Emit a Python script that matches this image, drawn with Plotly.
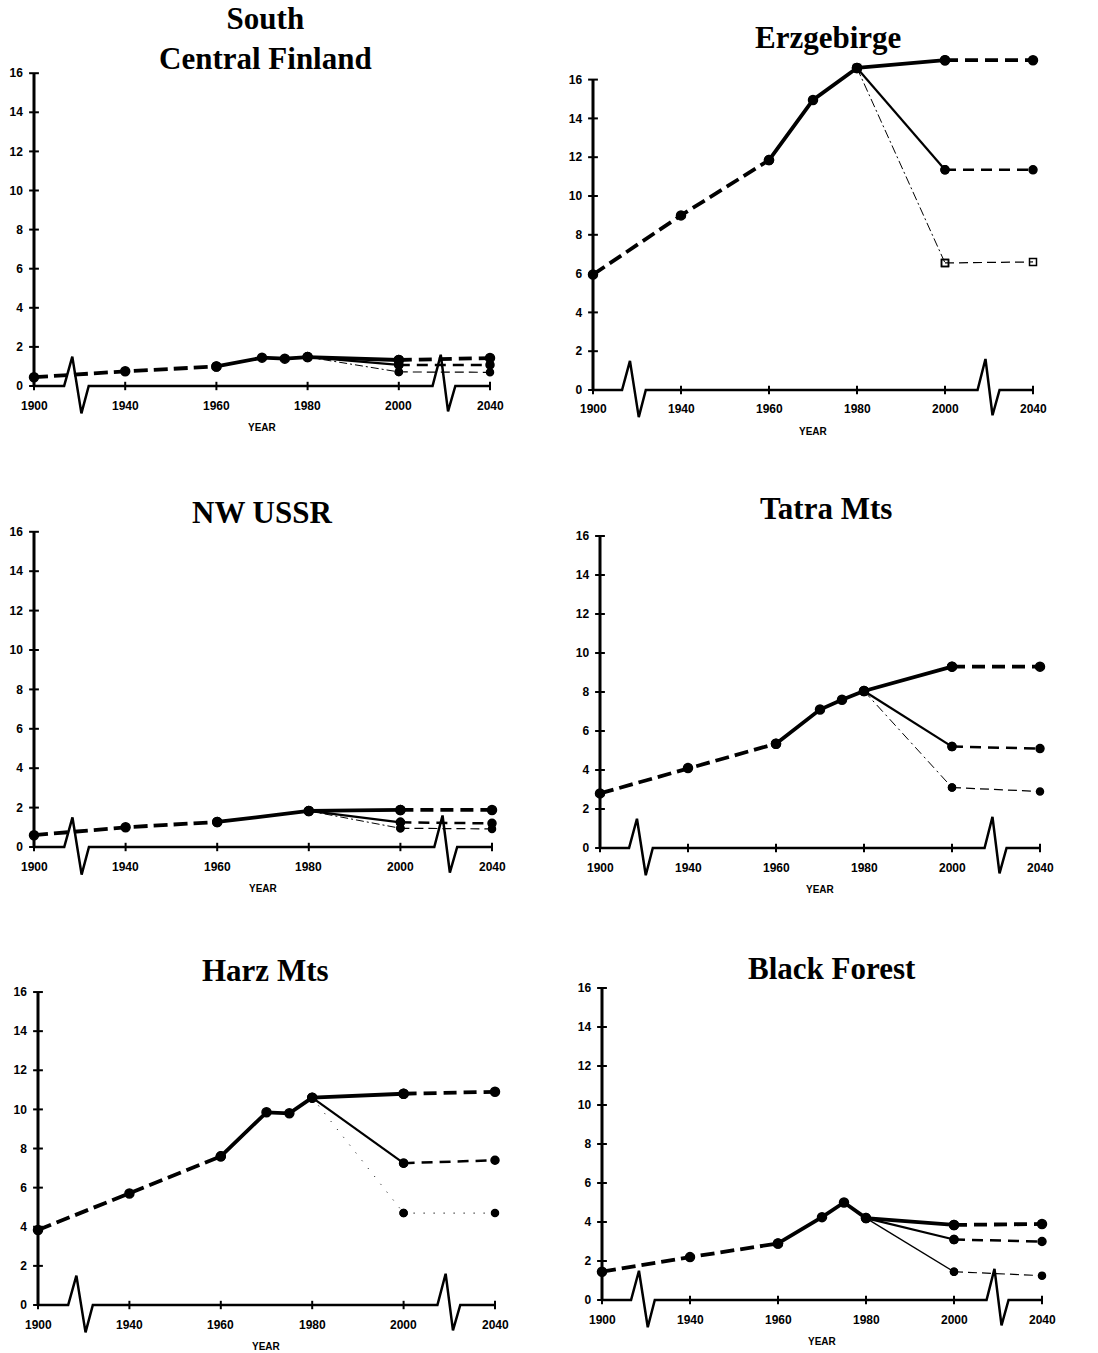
import numpy as np
import plotly.graph_objects as go

W, H = 1098, 1353

# ---------------- data ----------------
tick_years = [1900, 1940, 1960, 1980, 2000, 2040]
tick_labels = ["1900", "1940", "1960", "1980", "2000", "2040"]
y_ticks = [0, 2, 4, 6, 8, 10, 12, 14, 16]
scen_years = [1980, 2000, 2040]

fin_hist_years = [1900, 1940, 1960, 1970, 1975, 1980]
fin_hist_vals = [0.45, 0.75, 1.0, 1.45, 1.4, 1.48]
fin_high = [1.48, 1.33, 1.43]
fin_mid = [1.48, 1.08, 1.08]
fin_low = [1.48, 0.72, 0.7]

erz_hist_years = [1900, 1940, 1960, 1970, 1980]
erz_hist_vals = [5.95, 9.0, 11.85, 14.95, 16.6]
erz_high = [16.6, 17.0, 17.0]
erz_mid = [16.6, 11.35, 11.35]
erz_low = [16.6, 6.55, 6.6]

nw_hist_years = [1900, 1940, 1960, 1980]
nw_hist_vals = [0.6, 1.0, 1.27, 1.83]
nw_high = [1.83, 1.88, 1.88]
nw_mid = [1.83, 1.25, 1.2]
nw_low = [1.83, 0.95, 0.92]

tat_hist_years = [1900, 1940, 1960, 1970, 1975, 1980]
tat_hist_vals = [2.8, 4.1, 5.35, 7.1, 7.6, 8.05]
tat_high = [8.05, 9.3, 9.3]
tat_mid = [8.05, 5.2, 5.1]
tat_low = [8.05, 3.1, 2.9]

harz_hist_years = [1900, 1940, 1960, 1970, 1975, 1980]
harz_hist_vals = [3.83, 5.7, 7.6, 9.85, 9.8, 10.6]
harz_high = [10.6, 10.8, 10.9]
harz_mid = [10.6, 7.25, 7.4]
harz_low = [10.6, 4.7, 4.7]

bf_hist_years = [1900, 1940, 1960, 1970, 1975, 1980]
bf_hist_vals = [1.45, 2.2, 2.9, 4.25, 5.0, 4.2]
bf_high = [4.2, 3.85, 3.9]
bf_mid = [4.2, 3.1, 3.0]
bf_low = [4.2, 1.45, 1.25]

titles = ["South<br>Central Finland", "Erzgebirge", "NW USSR", "Tatra Mts", "Harz Mts", "Black Forest"]

# ---------------- layout parameters (pixels) ----------------
panels = [
    dict(x0=34, sx=91.2, y0=386, sy=19.55, tx=265, ty=39, hist=(fin_hist_years, fin_hist_vals),
         high=fin_high, mid=fin_mid, low=fin_low, lowdash="8px,3px,2px,3px", lowsym="circle"),
    dict(x0=593, sx=88.0, y0=390, sy=19.4, tx=828, ty=38, hist=(erz_hist_years, erz_hist_vals),
         high=erz_high, mid=erz_mid, low=erz_low, lowdash="9px,3px,2px,3px", lowsym="square-open"),
    dict(x0=34, sx=91.6, y0=847, sy=19.7, tx=262, ty=512, hist=(nw_hist_years, nw_hist_vals),
         high=nw_high, mid=nw_mid, low=nw_low, lowdash="8px,3px,2px,3px", lowsym="circle"),
    dict(x0=600, sx=88.0, y0=848, sy=19.5, tx=826, ty=508, hist=(tat_hist_years, tat_hist_vals),
         high=tat_high, mid=tat_mid, low=tat_low, lowdash="9px,4px,2px,4px", lowsym="circle"),
    dict(x0=38, sx=91.4, y0=1305, sy=19.56, tx=265, ty=970, hist=(harz_hist_years, harz_hist_vals),
         high=harz_high, mid=harz_mid, low=harz_low, lowdash="1px,9px", lowsym="circle"),
    dict(x0=602, sx=88.0, y0=1300, sy=19.5, tx=832, ty=968, hist=(bf_hist_years, bf_hist_vals),
         high=bf_high, mid=bf_mid, low=bf_low, lowdash="solid", lowsym="circle"),
]

YMIN, YMAX = -1.6, 17.3
XMIN, XMAX = -0.1, 5.12

tick_pos = list(range(len(tick_years)))


def pos(years):
    # broken axis: equally spaced tick years
    return list(np.interp(years, tick_years, tick_pos))


fig = go.Figure()
layout = dict(width=W, height=H, margin=dict(l=0, r=0, t=0, b=0),
              paper_bgcolor="white", plot_bgcolor="white", showlegend=False)
shapes, annots = [], []

tickfont = dict(family="Liberation Sans", size=12, color="black", weight="bold")
BLACK = "black"

for i, p in enumerate(panels, start=1):
    xa, ya = f"x{i}" if i > 1 else "x", f"y{i}" if i > 1 else "y"
    xk, yk = f"xaxis{i}" if i > 1 else "xaxis", f"yaxis{i}" if i > 1 else "yaxis"
    xl = (p["x0"] + XMIN * p["sx"]) / W
    xr = (p["x0"] + XMAX * p["sx"]) / W
    yt = 1 - (p["y0"] - YMAX * p["sy"]) / H
    yb = 1 - (p["y0"] - YMIN * p["sy"]) / H
    layout[xk] = dict(domain=[xl, xr], range=[XMIN, XMAX], anchor=ya, showgrid=False, zeroline=False,
                      showline=False, ticks="", showticklabels=False)
    layout[yk] = dict(domain=[yb, yt], range=[YMIN, YMAX], anchor=xa, showgrid=False, zeroline=False,
                      showline=False, ticks="", tickvals=y_ticks, ticktext=[str(v) for v in y_ticks],
                      tickfont=tickfont, ticklabelstandoff=1)

    def add(x, y, width, dash, size, sym="circle", mode="lines+markers"):
        fig.add_trace(go.Scatter(x=pos(x), y=y, mode=mode, xaxis=xa, yaxis=ya, cliponaxis=False,
                                 line=dict(color=BLACK, width=width, dash=dash),
                                 marker=dict(symbol=sym, size=size, color=BLACK,
                                             line=dict(color=BLACK, width=1.5)),
                                 hoverinfo="skip"))

    hy, hv = p["hist"]
    early = [(y, v) for y, v in zip(hy, hv) if y <= 1960]
    late = [(y, v) for y, v in zip(hy, hv) if y >= 1960]
    add([e[0] for e in early], [e[1] for e in early], 3.8, "14px,6px", 9)
    add([e[0] for e in late], [e[1] for e in late], 3.8, "solid", 9)

    # high scenario
    add(scen_years[:2], p["high"][:2], 3.8, "solid", 9)
    add(scen_years[1:], p["high"][1:], 3.8, "13px,7px", 9)
    # mid scenario
    add(scen_years[:2], p["mid"][:2], 2.2, "solid", 8)
    add(scen_years[1:], p["mid"][1:], 2.5, "11px,7px", 8)
    # low scenario
    lw = 1.4 if p["lowdash"] == "solid" else 1.0
    add(scen_years[:2], p["low"][:2], lw, p["lowdash"], 7, p["lowsym"])
    add(scen_years[1:], p["low"][1:], 1.2, "9px,5px" if i != 5 else "1px,9px", 7, p["lowsym"])

    # y axis line and crossing ticks
    shapes.append(dict(type="line", xref=xa, yref=ya, x0=0, x1=0, y0=0, y1=16,
                       line=dict(color=BLACK, width=3)))
    fig.add_trace(go.Scatter(x=[0] * len(y_ticks), y=y_ticks, mode="markers", xaxis=xa, yaxis=ya,
                             cliponaxis=False, hoverinfo="skip",
                             marker=dict(symbol="line-ew", size=7, line=dict(color=BLACK, width=2))))
    # broken x axis with zigzags
    shapes.append(dict(type="path", xref=xa, yref=ya,
                       path="M 0,0 L 0.33,0 L 0.42,1.5 L 0.52,-1.4 L 0.6,0 L 4.37,0 L 4.46,1.6 "
                            "L 4.54,-1.3 L 4.62,0 L 5,0",
                       line=dict(color=BLACK, width=2.5)))
    fig.add_trace(go.Scatter(x=tick_pos, y=[0] * len(tick_pos), mode="markers", xaxis=xa, yaxis=ya,
                             cliponaxis=False, hoverinfo="skip",
                             marker=dict(symbol="line-ns", size=6, line=dict(color=BLACK, width=2))))
    # x tick labels
    for tp, tl in zip(tick_pos, tick_labels):
        annots.append(dict(x=tp, y=-1.0, xref=xa, yref=ya, text=tl, showarrow=False,
                           font=tickfont, xanchor="center", yanchor="middle"))
    # YEAR label
    annots.append(dict(x=(p["x0"] + 2.5 * p["sx"]) / W, y=1 - (p["y0"] + 41) / H, xref="paper",
                       yref="paper", text="YEAR", showarrow=False, xanchor="center", yanchor="middle",
                       font=dict(family="Liberation Sans", size=10, color="black", weight="bold")))
    # title
    annots.append(dict(x=p["tx"] / W, y=1 - p["ty"] / H, xref="paper", yref="paper",
                       text=titles[i - 1], showarrow=False, xanchor="center", yanchor="middle",
                       font=dict(family="Liberation Serif", size=31, color="black", weight="bold")))

layout["shapes"] = shapes
layout["annotations"] = annots
fig.update_layout(**layout)
fig.write_html("out.html")
